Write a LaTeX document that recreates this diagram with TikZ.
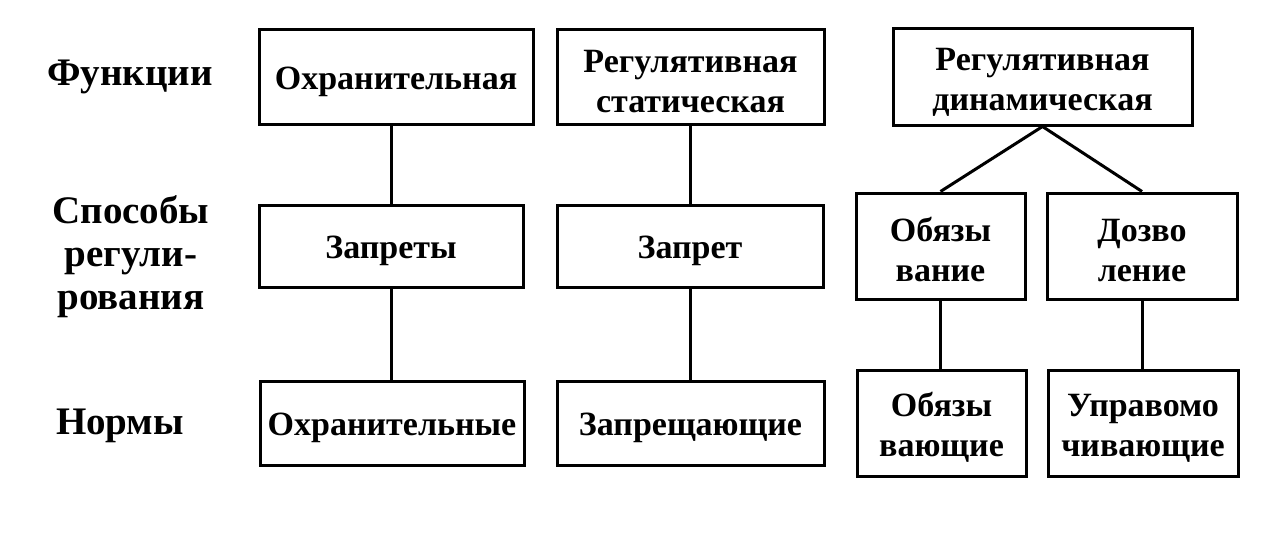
\documentclass[tikz,border=0pt]{standalone}
\usepackage{fontspec}
\setmainfont{Liberation Serif}
\newcommand\lowstrut{\rule{0pt}{32pt}}
\begin{document}
\begin{tikzpicture}[x=1pt,y=-1pt,
  box/.style={draw=black, line width=3pt, fill=white, inner sep=0pt, align=center,
    font=\bfseries\fontsize{34}{40}\selectfont},
  rowlabel/.style={inner sep=0pt, align=center, font=\bfseries\fontsize{39}{43}\selectfont},
  link/.style={draw=black, line width=3pt}]
\fill[white] (0,0) rectangle (1283,535);
\useasboundingbox (0,0) rectangle (1283,535);
% row labels
\node[rowlabel] (lf) at (130,77) {Функции};
\node[rowlabel] (ls) at (131,257) {Способы\\регули-\\рования};
\node[rowlabel] (ln) at (120,426) {Нормы};
% row 1
\node[box, minimum width=274pt, minimum height=95pt] (A1) at (396,77) {\lowstrut Охранительная};
\node[box, minimum width=267pt, minimum height=95pt] (B1) at (690.5,77) {\lowstrut Регулятивная\\статическая};
\node[box, minimum width=299pt, minimum height=96pt] (C1) at (1042.5,77) {\lowstrut Регулятивная\\динамическая};
% row 2
\node[box, minimum width=264pt, minimum height=82pt] (A2) at (391,246) {\lowstrut Запреты};
\node[box, minimum width=266pt, minimum height=82pt] (B2) at (690,246) {\lowstrut Запрет};
\node[box, minimum width=169pt, minimum height=106pt] (C2a) at (940.5,246) {\lowstrut Обязы\\вание};
\node[box, minimum width=190pt, minimum height=106pt] (C2b) at (1142,246) {\lowstrut Дозво\\ление};
% row 3
\node[box, minimum width=264pt, minimum height=84pt] (A3) at (392,423) {\lowstrut Охранительные};
\node[box, minimum width=267pt, minimum height=84pt] (B3) at (690.5,423) {\lowstrut Запрещающие};
\node[box, minimum width=169pt, minimum height=106pt] (C3a) at (941.5,423) {\lowstrut Обязы\\вающие};
\node[box, minimum width=190pt, minimum height=106pt] (C3b) at (1143,423) {\lowstrut Управомо\\чивающие};
% connectors
\draw[link] (A1.south -| A2.north) -- (A2.north);
\draw[link] (A2.south) -- (A3.north -| A2.south);
\draw[link] (B1.south -| B2.north) -- (B2.north);
\draw[link] (B2.south) -- (B3.north -| B2.south);
\draw[link] (C2a.north) -- (C1.south) -- (C2b.north);
\draw[link] (C2a.south) -- (C3a.north -| C2a.south);
\draw[link] (C2b.south) -- (C3b.north -| C2b.south);
\end{tikzpicture}
\end{document}
